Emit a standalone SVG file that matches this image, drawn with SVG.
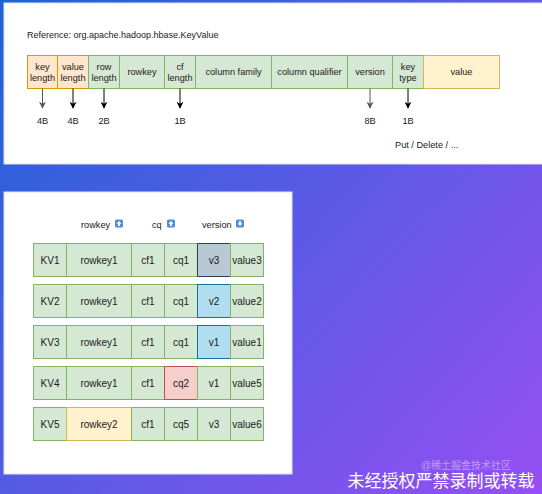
<svg xmlns="http://www.w3.org/2000/svg" width="542" height="494" viewBox="0 0 542 494">
<defs>
<linearGradient id="bg" x1="0" y1="0" x2="542" y2="494" gradientUnits="userSpaceOnUse">
<stop offset="0" stop-color="#1d63d8"/>
<stop offset="0.5" stop-color="#5a5ae6"/>
<stop offset="1" stop-color="#964ff3"/>
</linearGradient>
<marker id="ah" viewBox="0 0 10 10" refX="9" refY="5" markerWidth="7" markerHeight="7" markerUnits="userSpaceOnUse" orient="auto"><path d="M0,0 L10,5 L0,10 L3,5 Z" fill="#000"/></marker>
<marker id="ahg" viewBox="0 0 10 10" refX="9" refY="5" markerWidth="7" markerHeight="7" markerUnits="userSpaceOnUse" orient="auto"><path d="M0,0 L10,5 L0,10 L3,5 Z" fill="#555"/></marker>
<g id="up"><rect x="0" y="0" width="8" height="8" rx="1.5" fill="#4a90d9"/><path d="M4,1.5 L6.6,4.3 L5,4.3 L5,6.6 L3,6.6 L3,4.3 L1.4,4.3 Z" fill="#fff"/></g>
<g id="down"><rect x="0" y="0" width="8" height="8" rx="1.5" fill="#4a90d9"/><path d="M4,6.6 L6.6,3.8 L5,3.8 L5,1.4 L3,1.4 L3,3.8 L1.4,3.8 Z" fill="#fff"/></g>
</defs>
<style>
text{font-family:"Liberation Sans",Arial,sans-serif;fill:#1a1a1a;text-anchor:middle}
.t{font-size:9.2px}
.b{font-size:10px}
.lft{text-anchor:start}
.g{fill:#d5e8d4;stroke:#82b366;stroke-width:1}
.o{fill:#ffe6cc;stroke:#d79b00;stroke-width:1}
.y{fill:#fff2cc;stroke:#d6b656;stroke-width:1}
.s{fill:#bac8d3;stroke:#23445d;stroke-width:1}
.bl{fill:#b1ddf0;stroke:#10739e;stroke-width:1}
.r{fill:#f8cecc;stroke:#b85450;stroke-width:1}
.ar{stroke:#000;stroke-width:1;fill:none;marker-end:url(#ah)}
.arg{stroke:#555;stroke-width:1;fill:none;marker-end:url(#ahg)}
.panel{fill:#fff;stroke:#dfe3ee;stroke-width:1}
</style>
<rect x="0" y="0" width="542" height="494" fill="url(#bg)"/>
<rect class="panel" x="4" y="3" width="540" height="161"/>
<rect class="panel" x="4" y="192" width="288" height="282"/>

<text class="t lft" x="27" y="37.5" style="font-size:9px">Reference: org.apache.hadoop.hbase.KeyValue</text>

<g id="top-row">
<g id="keylength"><rect class="o" x="27.5" y="55.5" width="30" height="33"/><text class="t" x="42.5" y="69.5">key</text><text class="t" x="42.5" y="80.5">length</text></g>
<g id="valuelength"><rect class="o" x="57.5" y="55.5" width="31" height="33"/><text class="t" x="73" y="69.5">value</text><text class="t" x="73" y="80.5">length</text></g>
<g id="rowlength"><rect class="g" x="88.5" y="55.5" width="31" height="33"/><text class="t" x="104" y="69.5">row</text><text class="t" x="104" y="80.5">length</text></g>
<g id="rowkey"><rect class="g" x="119.5" y="55.5" width="45" height="33"/><text class="t" x="142" y="75">rowkey</text></g>
<g id="cflength"><rect class="g" x="164.5" y="55.5" width="31" height="33"/><text class="t" x="180" y="69.5">cf</text><text class="t" x="180" y="80.5">length</text></g>
<g id="columnfamily"><rect class="g" x="195.5" y="55.5" width="76" height="33"/><text class="t" x="233.5" y="75">column family</text></g>
<g id="columnqualifier"><rect class="g" x="271.5" y="55.5" width="76" height="33"/><text class="t" x="309.5" y="75">column qualifier</text></g>
<g id="version"><rect class="g" x="347.5" y="55.5" width="45" height="33"/><text class="t" x="370" y="75">version</text></g>
<g id="keytype"><rect class="g" x="392.5" y="55.5" width="31" height="33"/><text class="t" x="408" y="69.5">key</text><text class="t" x="408" y="80.5">type</text></g>
<g id="value"><rect class="y" x="423.5" y="55.5" width="76" height="33"/><text class="t" x="461.5" y="75">value</text></g>
</g>

<g id="connectors">
<line class="arg" x1="42.5" y1="88.5" x2="42.5" y2="108"/>
<line class="ar" x1="73" y1="88.5" x2="73" y2="108"/>
<line class="ar" x1="104" y1="88.5" x2="104" y2="108"/>
<line class="ar" x1="180" y1="88.5" x2="180" y2="108"/>
<line class="arg" x1="370" y1="88.5" x2="370" y2="108"/>
<line class="ar" x1="408" y1="88.5" x2="408" y2="108"/>
</g>

<g id="sizes">
<text class="t" x="42.5" y="123.5">4B</text>
<text class="t" x="73" y="123.5">4B</text>
<text class="t" x="104" y="123.5">2B</text>
<text class="t" x="180" y="123.5">1B</text>
<text class="t" x="370" y="123.5">8B</text>
<text class="t" x="408" y="123.5">1B</text>
<text class="t lft" x="395" y="147.5">Put / Delete / ...</text>
</g>

<g id="header">
<text class="t lft" x="81" y="227.5">rowkey</text><use href="#up" x="115" y="219.5"/>
<text class="t lft" x="152" y="227.5">cq</text><use href="#up" x="167" y="219.5"/>
<text class="t lft" x="202" y="227.5">version</text><use href="#down" x="236" y="219.5"/>
</g>

<g id="kv1">
<rect class="g" x="33.5" y="243.5" width="33" height="33"/><text class="b" x="50" y="263.5">KV1</text>
<rect class="g" x="66.5" y="243.5" width="65" height="33"/><text class="b" x="99" y="263.5">rowkey1</text>
<rect class="g" x="131.5" y="243.5" width="33" height="33"/><text class="b" x="148" y="263.5">cf1</text>
<rect class="g" x="164.5" y="243.5" width="33" height="33"/><text class="b" x="181" y="263.5">cq1</text>
<rect class="s" x="197.5" y="243.5" width="33" height="33"/><text class="b" x="214" y="263.5">v3</text>
<rect class="g" x="230.5" y="243.5" width="33" height="33"/><text class="b" x="247" y="263.5">value3</text>
</g>
<g id="kv2">
<rect class="g" x="33.5" y="284.5" width="33" height="33"/><text class="b" x="50" y="304.5">KV2</text>
<rect class="g" x="66.5" y="284.5" width="65" height="33"/><text class="b" x="99" y="304.5">rowkey1</text>
<rect class="g" x="131.5" y="284.5" width="33" height="33"/><text class="b" x="148" y="304.5">cf1</text>
<rect class="g" x="164.5" y="284.5" width="33" height="33"/><text class="b" x="181" y="304.5">cq1</text>
<rect class="bl" x="197.5" y="284.5" width="33" height="33"/><text class="b" x="214" y="304.5">v2</text>
<rect class="g" x="230.5" y="284.5" width="33" height="33"/><text class="b" x="247" y="304.5">value2</text>
</g>
<g id="kv3">
<rect class="g" x="33.5" y="325.5" width="33" height="33"/><text class="b" x="50" y="345.5">KV3</text>
<rect class="g" x="66.5" y="325.5" width="65" height="33"/><text class="b" x="99" y="345.5">rowkey1</text>
<rect class="g" x="131.5" y="325.5" width="33" height="33"/><text class="b" x="148" y="345.5">cf1</text>
<rect class="g" x="164.5" y="325.5" width="33" height="33"/><text class="b" x="181" y="345.5">cq1</text>
<rect class="bl" x="197.5" y="325.5" width="33" height="33"/><text class="b" x="214" y="345.5">v1</text>
<rect class="g" x="230.5" y="325.5" width="33" height="33"/><text class="b" x="247" y="345.5">value1</text>
</g>
<g id="kv4">
<rect class="g" x="33.5" y="366.5" width="33" height="33"/><text class="b" x="50" y="386.5">KV4</text>
<rect class="g" x="66.5" y="366.5" width="65" height="33"/><text class="b" x="99" y="386.5">rowkey1</text>
<rect class="g" x="131.5" y="366.5" width="33" height="33"/><text class="b" x="148" y="386.5">cf1</text>
<rect class="r" x="164.5" y="366.5" width="33" height="33"/><text class="b" x="181" y="386.5">cq2</text>
<rect class="g" x="197.5" y="366.5" width="33" height="33"/><text class="b" x="214" y="386.5">v1</text>
<rect class="g" x="230.5" y="366.5" width="33" height="33"/><text class="b" x="247" y="386.5">value5</text>
</g>
<g id="kv5">
<rect class="g" x="33.5" y="407.5" width="33" height="33"/><text class="b" x="50" y="427.5">KV5</text>
<rect class="y" x="66.5" y="407.5" width="65" height="33"/><text class="b" x="99" y="427.5">rowkey2</text>
<rect class="g" x="131.5" y="407.5" width="33" height="33"/><text class="b" x="148" y="427.5">cf1</text>
<rect class="g" x="164.5" y="407.5" width="33" height="33"/><text class="b" x="181" y="427.5">cq5</text>
<rect class="g" x="197.5" y="407.5" width="33" height="33"/><text class="b" x="214" y="427.5">v3</text>
<rect class="g" x="230.5" y="407.5" width="33" height="33"/><text class="b" x="247" y="427.5">value6</text>
</g>

<text x="466" y="469" style="font-family:'Liberation Sans','Noto Sans CJK SC',sans-serif;font-size:10px;fill:#ffffff;fill-opacity:0.45">@稀土掘金技术社区</text>
<text x="441" y="487" style="font-family:'Liberation Sans','Noto Sans CJK SC',sans-serif;font-size:17px;fill:#ffffff">未经授权严禁录制或转载</text>
</svg>
